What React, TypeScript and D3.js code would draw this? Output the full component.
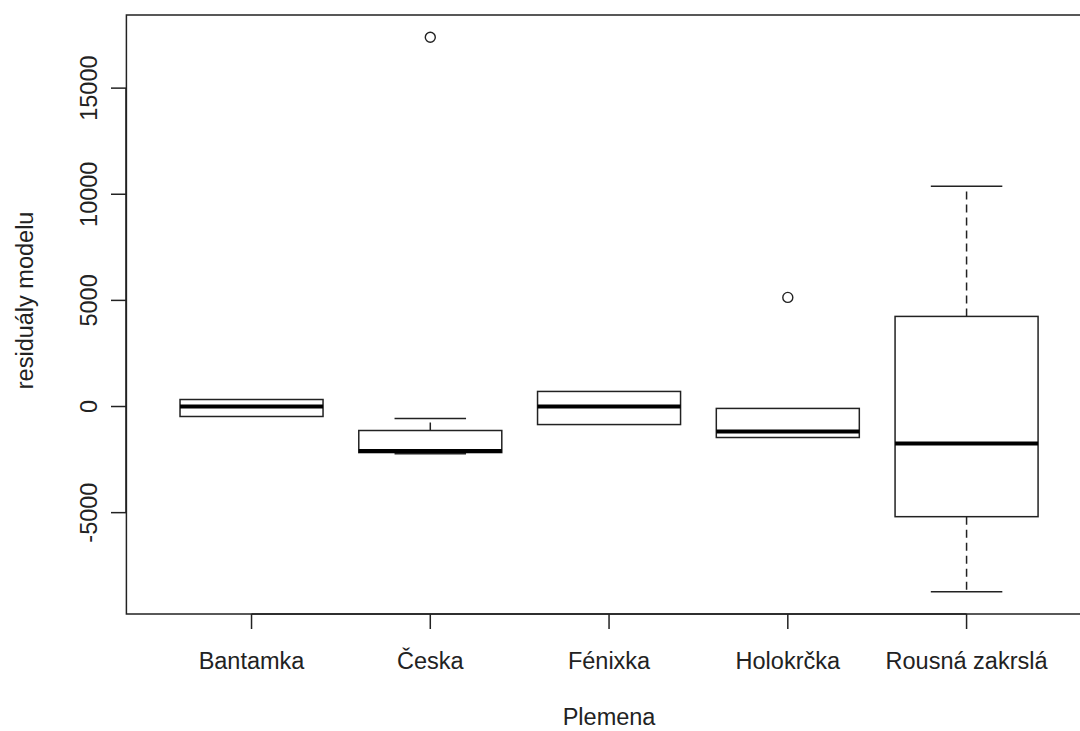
import React from "react";
import * as d3 from "d3";

// box statistics
const categories = ["Bantamka", "Česka", "Fénixka", "Holokrčka", "Rousná zakrslá"];
const lowerWhisker = [-470, -2230, -850, -1460, -8730];
const q1 = [-470, -2170, -850, -1460, -5190];
const median = [0, -2090, 0, -1180, -1745];
const q3 = [330, -1130, 710, -90, 4245];
const upperWhisker = [330, -566, 710, -90, 10380];
const outliers = [[], [17400], [], [5140], []];
const yTicks = [-5000, 0, 5000, 10000, 15000];

const width = 1080,
      height = 731;

const App = () => {
    // R style axes: 4% padding on both
    const x = d3.scaleLinear().domain([0.3, 5.7]).range([126.4, 1091.7]);
    const y = d3.scaleLinear().domain([-9775, 18445]).range([614, 15]);
    const ink = "#222";
    const font = "'Liberation Sans', Arial, sans-serif";
    const fs = 23.5;
    const boxHalf = 0.4,
          capHalf = 0.2;

    return (
        <svg width={width} height={height} style={{ position: "absolute", left: 0, top: 0, background: "#fff" }}>
            <rect x={0} y={0} width={width} height={height} fill="#fff" />

            {/* plot frame */}
            <rect x={x(0.3)} y={y(18445)} width={x(5.7) - x(0.3)} height={y(-9775) - y(18445)}
                  fill="none" stroke={ink} strokeWidth={1.5} />

            {/* boxes */}
            {categories.map((c, i) => {
                const cx = x(i + 1);
                const l = x(i + 1 - boxHalf), r = x(i + 1 + boxHalf);
                const cl = x(i + 1 - capHalf), cr = x(i + 1 + capHalf);
                return (
                    <g key={c}>
                        {upperWhisker[i] > q3[i] && (
                            <g>
                                <line x1={cx} x2={cx} y1={y(q3[i])} y2={y(upperWhisker[i])}
                                      stroke={ink} strokeWidth={1.5} strokeDasharray="8,5" />
                                <line x1={cl} x2={cr} y1={y(upperWhisker[i])} y2={y(upperWhisker[i])}
                                      stroke={ink} strokeWidth={1.5} />
                            </g>
                        )}
                        {lowerWhisker[i] < q1[i] && (
                            <g>
                                <line x1={cx} x2={cx} y1={y(q1[i])} y2={y(lowerWhisker[i])}
                                      stroke={ink} strokeWidth={1.5} strokeDasharray="8,5" />
                                <line x1={cl} x2={cr} y1={y(lowerWhisker[i])} y2={y(lowerWhisker[i])}
                                      stroke={ink} strokeWidth={1.5} />
                            </g>
                        )}
                        <rect x={l} y={y(q3[i])} width={r - l} height={y(q1[i]) - y(q3[i])}
                              fill="#fff" stroke={ink} strokeWidth={1.5} />
                        <line x1={l} x2={r} y1={y(median[i])} y2={y(median[i])}
                              stroke="#000" strokeWidth={4} />
                        {outliers[i].map((v, j) => (
                            <circle key={j} cx={cx} cy={y(v)} r={5} fill="none" stroke={ink} strokeWidth={1.4} />
                        ))}
                    </g>
                );
            })}

            {/* x axis */}
            <line x1={x(1)} x2={x(5)} y1={614} y2={614} stroke={ink} strokeWidth={1.5} />
            {categories.map((c, i) => (
                <g key={c}>
                    <line x1={x(i + 1)} x2={x(i + 1)} y1={614} y2={629} stroke={ink} strokeWidth={1.5} />
                    <text x={x(i + 1)} y={669} textAnchor="middle" fontFamily={font} fontSize={fs} fill={ink}>{c}</text>
                </g>
            ))}

            {/* y axis */}
            <line x1={126} x2={126} y1={y(-5000)} y2={y(15000)} stroke={ink} strokeWidth={1.5} />
            {yTicks.map(t => (
                <g key={t}>
                    <line x1={111} x2={126} y1={y(t)} y2={y(t)} stroke={ink} strokeWidth={1.5} />
                    <text transform={`translate(97,${y(t)}) rotate(-90)`} textAnchor="middle"
                          fontFamily={font} fontSize={fs} fill={ink}>{t}</text>
                </g>
            ))}

            {/* axis titles */}
            <text x={x(3)} y={725} textAnchor="middle" fontFamily={font} fontSize={fs} fill={ink}>Plemena</text>
            <text transform={`translate(33,${y(5000)}) rotate(-90)`} textAnchor="middle"
                  fontFamily={font} fontSize={fs} fill={ink}>residuály modelu</text>
        </svg>
    );
};

export default App;
